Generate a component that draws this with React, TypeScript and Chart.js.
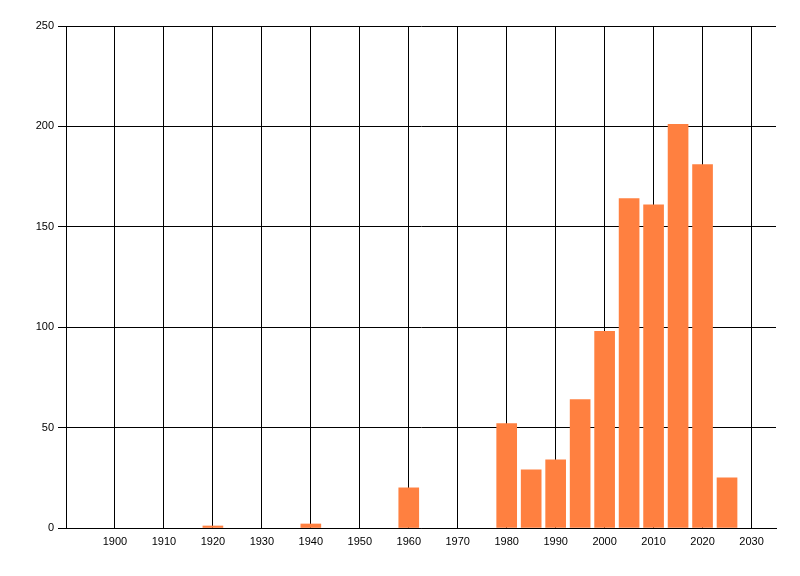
import React, { useEffect, useRef } from "react";
import { Chart, registerables } from "chart.js";

Chart.register(...registerables);

const years = [1920, 1940, 1960, 1980, 1985, 1990, 1995, 2000, 2005, 2010, 2015, 2020, 2025];
const counts = [1, 2, 20, 52, 29, 34, 64, 98, 164, 161, 201, 181, 25];
const xTicks = [1900, 1910, 1920, 1930, 1940, 1950, 1960, 1970, 1980, 1990, 2000, 2010, 2020, 2030];
const yTicks = [0, 50, 100, 150, 200, 250];

export default function App() {
  const ref = useRef<HTMLCanvasElement>(null);
  useEffect(() => {
    if (!ref.current) return;
    const font = { family: "'Liberation Sans', Arial, sans-serif", size: 11 };
    const chart = new Chart(ref.current, {
      type: "bar",
      data: {
        datasets: [
          {
            data: years.map((y, i) => ({ x: y, y: counts[i] })),
            backgroundColor: "#FF8040",
            borderWidth: 0,
            barThickness: 20,
          },
        ],
      },
      options: {
        animation: false,
        responsive: false,
        maintainAspectRatio: false,
        layout: { padding: { left: 0, top: 26, right: 24, bottom: 0 } },
        plugins: { legend: { display: false }, tooltip: { enabled: false } },
        scales: {
          x: {
            type: "linear",
            min: 1890,
            max: 2035,
            offset: false,
            afterBuildTicks: (scale: any) => {
              scale.ticks = xTicks.map((v) => ({ value: v }));
            },
            afterFit: (scale: any) => {
              scale.height = 48;
            },
            grid: { color: "#000", lineWidth: 1, drawTicks: false, offset: false },
            border: { color: "#000", width: 1 },
            ticks: {
              color: "#000",
              font,
              padding: 7,
              maxRotation: 0,
              autoSkip: false,
              callback: (v: any) => String(v),
            },
          },
          y: {
            min: 0,
            max: 250,
            afterBuildTicks: (scale: any) => {
              scale.ticks = yTicks.map((v) => ({ value: v }));
            },
            afterFit: (scale: any) => {
              scale.width = 66;
            },
            grid: { color: "#000", lineWidth: 1, tickLength: 8, drawTicks: true },
            border: { color: "#000", width: 1 },
            ticks: { color: "#000", font, padding: 4, callback: (v: any) => String(v) },
          },
        },
      },
    });
    return () => chart.destroy();
  }, []);
  return (
    <div style={{ position: "absolute", left: 0, top: 0, width: 800, height: 576, background: "#fff" }}>
      <canvas ref={ref} width={800} height={576} style={{ width: 800, height: 576 }} />
    </div>
  );
}
